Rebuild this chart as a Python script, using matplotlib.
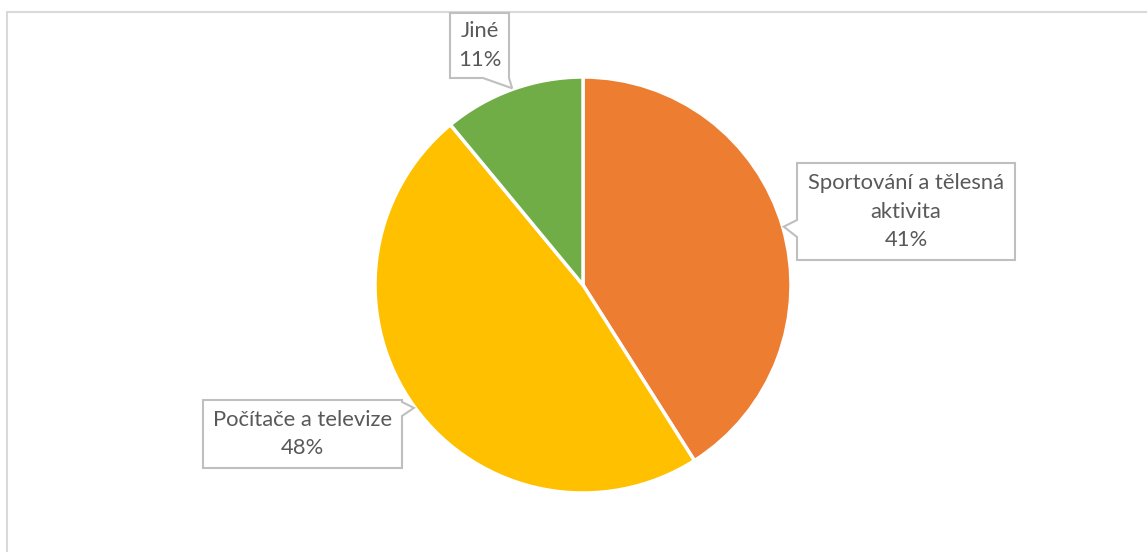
import numpy as np
import matplotlib
matplotlib.use("Agg")
import matplotlib.pyplot as plt
from matplotlib.patches import Polygon, Rectangle

# Pie data
categories = ["Sportování a tělesná\naktivita", "Počítače a televize", "Jiné"]
shares = [41, 48, 11]
colors = ["#ED7D31", "#FFC000", "#70AD47"]

W, H = 1147, 552
fig = plt.figure(figsize=(W / 100, H / 100), dpi=100)
ax = fig.add_axes([0, 0, 1, 1])


def Y(y):
    # y measured from the top of the page -> axes y
    return H - y


cx, cy, r = 583, Y(285), 208
wedges, _ = ax.pie(shares, colors=colors, startangle=90, counterclock=False,
                   center=(cx, cy), radius=r, frame=True,
                   wedgeprops=dict(edgecolor="white", linewidth=2.5))
ax.set_xlim(0, W)
ax.set_ylim(0, H)
ax.set_aspect("equal")
ax.axis("off")

# outer chart frame
ax.add_patch(Rectangle((7, Y(1200)), 2000, 1200 - 12, fill=False,
                       edgecolor="#D9D9D9", linewidth=1.5, zorder=0))

# mid-angle of each wedge -> pointer tip on the rim
tips = []
for w in wedges:
    a = np.deg2rad((w.theta1 + w.theta2) / 2)
    tips.append((cx + r * 1.005 * np.cos(a), cy + r * 1.005 * np.sin(a)))


def callout(box, side, span, tip, text):
    x0, y0, x1, y1 = box  # left, top, right, bottom (page coords)
    a, b = span
    if side == "left":
        verts = [(x0, Y(y0)), (x1, Y(y0)), (x1, Y(y1)), (x0, Y(y1)),
                 (x0, Y(b)), tip, (x0, Y(a))]
    elif side == "right":
        verts = [(x0, Y(y0)), (x1, Y(y0)), (x1, Y(a)), tip, (x1, Y(b)),
                 (x1, Y(y1)), (x0, Y(y1))]
    else:  # bottom
        verts = [(x0, Y(y0)), (x1, Y(y0)), (x1, Y(y1)), tip, (a, Y(y1)),
                 (x0, Y(y1))]
    ax.add_patch(Polygon(verts, closed=True, facecolor="white",
                         edgecolor="#BFBFBF", linewidth=1.5, zorder=5,
                         joinstyle="miter"))
    ax.text((x0 + x1) / 2, Y((y0 + y1) / 2), text, ha="center", va="center",
            fontsize=15.8, color="#595959", family="Lato",
            linespacing=1.52, zorder=6)


labels = [f"{c}\n{v}%" for c, v in zip(categories, shares)]
callout((797, 163, 1015, 260), "left", (220, 237), tips[0], labels[0])
callout((203, 400, 402, 468), "right", (402, 416), tips[1], labels[1])
callout((450, 13, 509, 78), "bottom", (483, 509), tips[2], labels[2])

fig.savefig("out.png", dpi=100, facecolor="white")
